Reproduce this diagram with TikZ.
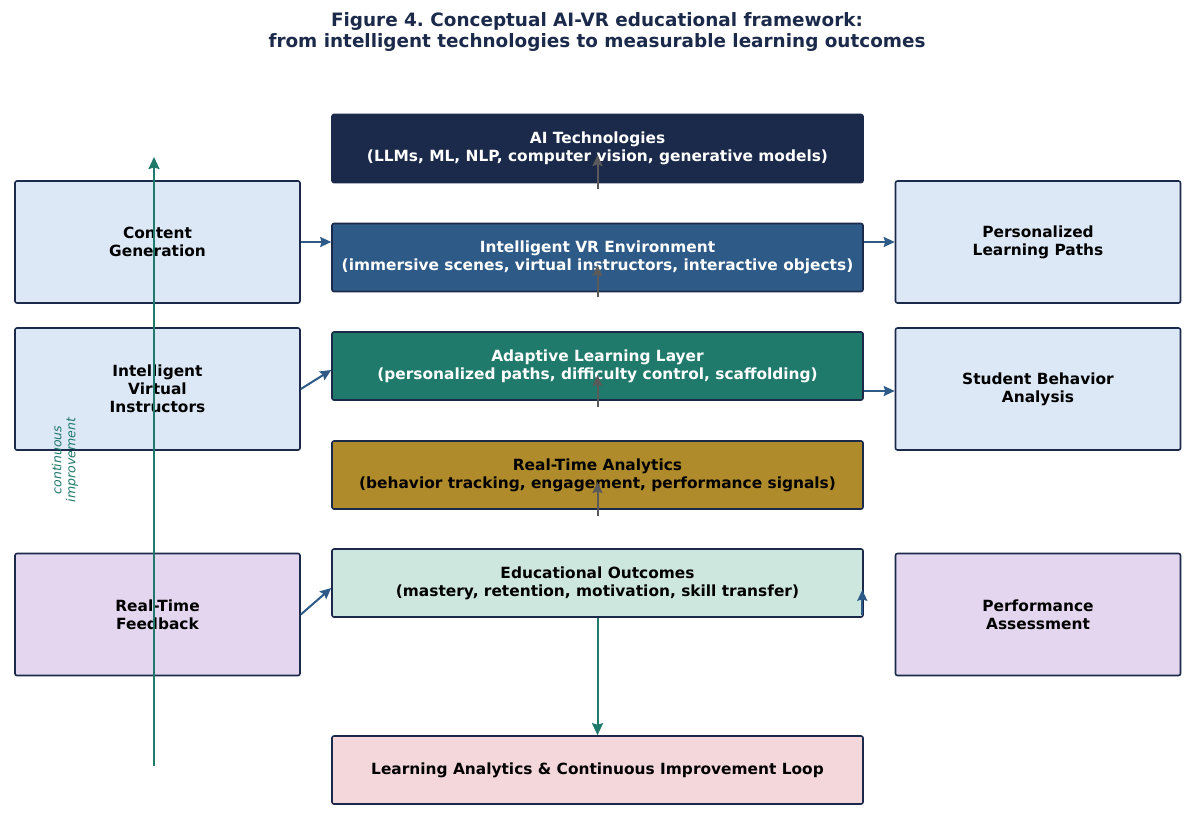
\documentclass[tikz,border=0pt]{standalone}
\usepackage{fontspec}
\setmainfont{DejaVu Sans}
\frenchspacing
\usetikzlibrary{arrows.meta,positioning,calc}
\definecolor{navy}{HTML}{1B2A4A}
\definecolor{vrblue}{HTML}{2E5A88}
\definecolor{adteal}{HTML}{1F7A6B}
\definecolor{gold}{HTML}{B08B2B}
\definecolor{mint}{HTML}{CDE7DF}
\definecolor{pinkbox}{HTML}{F3D7DA}
\definecolor{lblue}{HTML}{DCE8F6}
\definecolor{lilac}{HTML}{E4D6EE}
\definecolor{garrow}{HTML}{5A5A5A}
\tikzset{
  box/.style={draw=navy, line width=1.6pt, rounded corners=2pt, inner sep=0pt, align=center,
    font=\bfseries\fontsize{15.4}{18}\selectfont},
  mainbox/.style={box, minimum width=531pt, minimum height=68pt},
  sidebox/.style={box, minimum width=285pt, minimum height=122pt, fill=lblue, text=black},
  bluearrow/.style={draw=vrblue, line width=2pt, -{Stealth[length=11pt,width=10pt,inset=1.5pt]}},
  grayarrow/.style={draw=garrow, line width=2pt, -{Stealth[length=11pt,width=10pt,inset=1.5pt]}},
  tealarrow/.style={draw=adteal, line width=2pt, -{Stealth[length=12pt,width=11pt,inset=1.5pt]}},
}
\begin{document}
\begin{tikzpicture}[x=1pt,y=-1pt]
\useasboundingbox[fill=white] (0,0) rectangle (1193,820);
% title
\node[font=\bfseries\fontsize{18.4}{21}\selectfont, text=navy, align=center] (title) at (597,31.5)
  {Figure 4. Conceptual AI-VR educational framework:\\from intelligent technologies to measurable learning outcomes};
% central column
\node[mainbox, fill=navy, text=white] (ai) at (597.5,148.5) {AI Technologies\\(LLMs, ML, NLP, computer vision, generative models)};
\node[mainbox, fill=vrblue, text=white] (vr) at (597.5,257.5) {Intelligent VR Environment\\(immersive scenes, virtual instructors, interactive objects)};
\node[mainbox, fill=adteal, text=white] (ad) at (597.5,366) {Adaptive Learning Layer\\(personalized paths, difficulty control, scaffolding)};
\node[mainbox, fill=gold, text=black] (rt) at (597.5,475) {Real-Time Analytics\\(behavior tracking, engagement, performance signals)};
\node[mainbox, fill=mint, text=black] (edu) at (597.5,583) {Educational Outcomes\\(mastery, retention, motivation, skill transfer)};
\node[mainbox, fill=pinkbox, text=black] (la) at (597.5,770) {Learning Analytics \& Continuous Improvement Loop};
% left column
\node[sidebox] (cg) at (157.5,242) {Content\\Generation};
\node[sidebox] (ivi) at (157.5,389) {Intelligent\\Virtual\\Instructors};
\node[sidebox, fill=lilac] (rtf) at (157.5,614.5) {Real-Time\\Feedback};
% right column
\node[sidebox] (plp) at (1038,242) {Personalized\\Learning Paths};
\node[sidebox] (sba) at (1038,389) {Student Behavior\\Analysis};
\node[sidebox, fill=lilac] (pa) at (1038,614.5) {Performance\\Assessment};
% gray upward arrows
\draw[grayarrow] ([yshift=-6pt]ai.south) -- ([yshift=-6.5pt]ai.center);
\draw[grayarrow] ([yshift=-5pt]vr.south) -- ([yshift=-7.5pt]vr.center);
\draw[grayarrow] ([yshift=-6pt]ad.south) -- ([yshift=-9pt]ad.center);
\draw[grayarrow] ([yshift=-6pt]rt.south) -- ([yshift=-7pt]rt.center);
% blue side arrows
\draw[bluearrow] (cg.east) -- (cg.east -| vr.west);
\draw[bluearrow] (ivi.east) -- ([yshift=-4pt]ad.west);
\draw[bluearrow] (rtf.east) -- ([yshift=-5pt]edu.west);
\draw[bluearrow] (plp.west -| vr.east) -- (plp.west);
\draw[bluearrow] ([yshift=-25pt]ad.east) -- ([yshift=-25pt]ad.east -| sba.west);
\draw[bluearrow] ([xshift=-1.5pt,yshift=3pt]edu.south east) -- ([xshift=-1.5pt,yshift=28pt]edu.south east);
% outcome to loop
\draw[tealarrow] (edu.south) -- (la.north);
% continuous improvement
\coordinate (ciStart) at (154,766);
\coordinate (ciEnd) at (154,157);
\draw[tealarrow] (ciStart) -- (ciEnd);
\node[rotate=90, text=adteal, font=\itshape\fontsize{12.5}{14}\selectfont, align=center] (ci) at (65,460) {continuous\\improvement};
\end{tikzpicture}
\end{document}
